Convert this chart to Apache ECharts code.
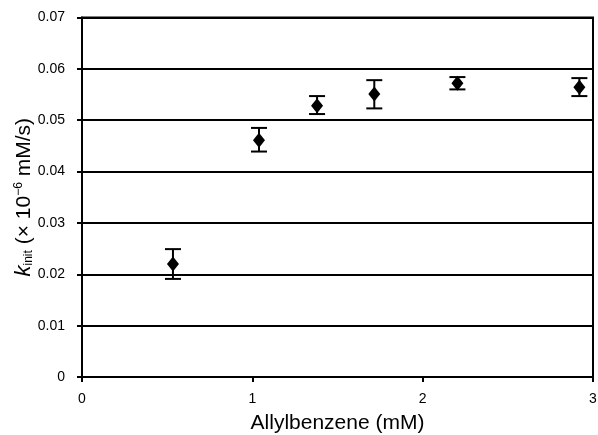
<!DOCTYPE html>
<html><head><meta charset="utf-8">
<script src="https://cdn.jsdelivr.net/npm/echarts@6/dist/echarts.min.js"></script>
<style>html,body{margin:0;padding:0;background:#fff}#c{width:598px;height:435px}</style>
</head><body><div id="c"></div>
<script>
var xValues = [0.534, 1.039, 1.380, 1.716, 2.204, 2.920];
var yValues = [0.0220, 0.0461, 0.0528, 0.0551, 0.0572, 0.0564];
var yLow    = [0.0191, 0.0439, 0.0512, 0.0523, 0.0560, 0.0547];
var yHigh   = [0.0249, 0.0485, 0.0547, 0.0578, 0.0584, 0.0582];
var xTicks = [0, 1, 2, 3];
var yTicks = [0, 0.01, 0.02, 0.03, 0.04, 0.05, 0.06, 0.07];

var points = xValues.map(function(x, i){ return [x, yValues[i]]; });
var errs = xValues.map(function(x, i){ return [x, yLow[i], yHigh[i]]; });

var chart = echarts.init(document.getElementById('c'));
var F = 'Liberation Sans, Arial, sans-serif';
chart.setOption({
  animation: false,
  grid: {left: 82, right: 5, top: 17.5, bottom: 58, show: true, borderColor: '#000', borderWidth: 2,
         containLabel: false, outerBoundsMode: 'none'},
  xAxis: {
    type: 'value', min: 0, max: 3, interval: 1,
    axisLine: {lineStyle: {color: '#000', width: 2}},
    axisTick: {show: true, length: 5, lineStyle: {color: '#000', width: 2}},
    axisLabel: {color: '#000', fontFamily: F, fontSize: 14, margin: 15,
      formatter: function(v){ return xTicks.indexOf(v) >= 0 ? String(v) : ''; }},
    splitLine: {show: false},
    name: 'Allylbenzene (mM)', nameLocation: 'middle', nameGap: 36, nameMoveOverlap: false,
    nameTextStyle: {color: '#000', fontFamily: F, fontSize: 21}
  },
  yAxis: {
    type: 'value', min: 0, max: 0.07, interval: 0.01,
    axisLine: {lineStyle: {color: '#000', width: 2}},
    axisTick: {show: true, length: 5, lineStyle: {color: '#000', width: 2}},
    axisLabel: {color: '#000', fontFamily: F, fontSize: 14, margin: 17,
      formatter: function(v){
        var r = Math.round(v*100)/100;
        for (var i=0;i<yTicks.length;i++){ if (Math.abs(yTicks[i]-r)<1e-9) return r===0?'0':r.toFixed(2); }
        return '';
      }},
    splitLine: {show: true, lineStyle: {color: '#000', width: 2}},
    name: '{k|k}{sub|init} {n|(× 10}{sup|−6}{n| mM/s)}', nameLocation: 'middle', nameGap: 47, nameRotate: 90,
    nameMoveOverlap: false,
    nameTextStyle: {color: '#000', fontFamily: F, fontSize: 21,
      rich: {
        k: {fontStyle: 'italic', fontSize: 22, fontFamily: F, color: '#000'},
        sub: {fontSize: 12, fontFamily: F, color: '#000', verticalAlign: 'bottom', padding: [8,0,0,0]},
        n: {fontSize: 21, fontFamily: F, color: '#000'},
        sup: {fontSize: 12, fontFamily: F, color: '#000', verticalAlign: 'top', padding: [0,0,10,0]}
      }}
  },
  series: [
    {
      type: 'custom', data: errs, z: 3,
      renderItem: function(params, api){
        var x = api.value(0);
        var lo = api.coord([x, api.value(1)]);
        var hi = api.coord([x, api.value(2)]);
        var hw = 8;
        var st = {stroke: '#000', lineWidth: 2};
        return {type: 'group', children: [
          {type: 'line', shape: {x1: lo[0], y1: lo[1], x2: hi[0], y2: hi[1]}, style: st},
          {type: 'line', shape: {x1: lo[0]-hw, y1: lo[1], x2: lo[0]+hw, y2: lo[1]}, style: st},
          {type: 'line', shape: {x1: hi[0]-hw, y1: hi[1], x2: hi[0]+hw, y2: hi[1]}, style: st}
        ]};
      }
    },
    {
      type: 'scatter', data: points, symbol: 'diamond', symbolSize: [12, 15], z: 4,
      itemStyle: {color: '#000', opacity: 1}
    }
  ]
});
</script></body></html>
